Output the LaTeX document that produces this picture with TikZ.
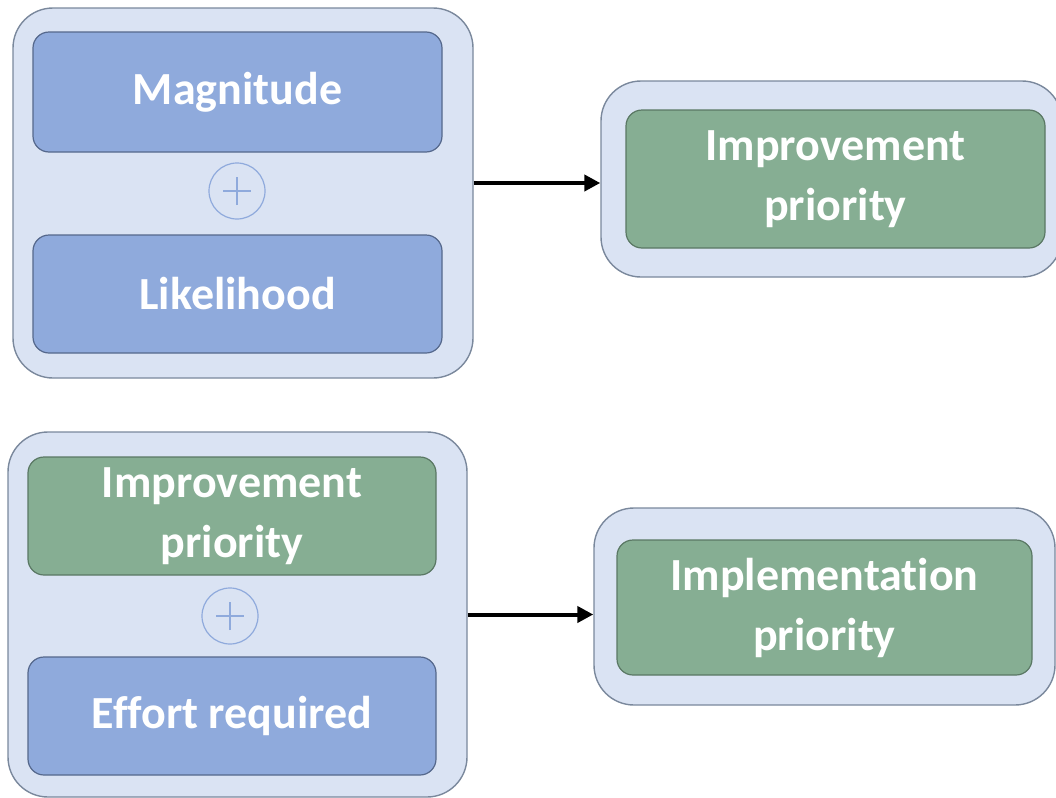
\documentclass[tikz,border=0pt]{standalone}
\usepackage{fontspec}
\setmainfont{Carlito}[Ligatures={NoCommon}]
\usetikzlibrary{arrows.meta}
\definecolor{panel}{HTML}{DAE3F3}
\definecolor{panelline}{HTML}{7A889C}
\definecolor{bluefill}{HTML}{8FAADC}
\definecolor{blueline}{HTML}{55688C}
\definecolor{greenfill}{HTML}{86AE93}
\definecolor{greenline}{HTML}{5A7864}
\definecolor{plusline}{HTML}{8FAADC}

\begin{document}
\begin{tikzpicture}[x=0.5pt, y=-0.5pt, thick,
  outer/.style = {draw=panelline, fill=panel, line width=0.7pt, rounded corners=20pt, inner sep=0pt},
  inbox/.style = {line width=0.6pt, rounded corners=8pt, text=white, align=center, inner sep=0pt,
                  font=\fontsize{23}{30}\selectfont\bfseries},
  blue/.style = {inbox, draw=blueline, fill=bluefill},
  green/.style = {inbox, draw=greenline, fill=greenfill},
  plus/.style = {circle, draw=plusline, line width=0.6pt, minimum size=28pt, inner sep=0pt,
                 path picture={\draw[plusline, line width=0.6pt]
                   ([xshift=-7pt]path picture bounding box.center) -- ([xshift=7pt]path picture bounding box.center)
                   ([yshift=-7pt]path picture bounding box.center) -- ([yshift=7pt]path picture bounding box.center);}},
  arr/.style = {-{Triangle[length=8pt, width=8pt]}, line width=2pt, black}]
\useasboundingbox (0,0) rectangle (1056,798);

% first step
\node[outer, minimum width=230pt, minimum height=185pt] (outerA) at (243,193) {};
\node[blue, minimum width=204.5pt, minimum height=60pt] (mag) at (237.5,92) {Magnitude};
\node[plus] (plusA) at (237,191) {};
\node[blue, minimum width=204.5pt, minimum height=59pt] (like) at (237.5,294) {Likelihood};

\node[outer, minimum width=230.5pt, minimum height=98pt] (outerB) at (831.5,179) {};
\node[green, minimum width=209.5pt, minimum height=69pt] (impA) at (835.5,179) {Improvement\\priority};

% second step
\node[outer, minimum width=229.5pt, minimum height=182.5pt] (outerC) at (237.5,614.5) {};
\node[green, minimum width=204pt, minimum height=59pt] (impB) at (232,516) {Improvement\\priority};
\node[plus] (plusB) at (230,616) {};
\node[blue, minimum width=204pt, minimum height=59pt] (effort) at (232,716) {Effort required};

\node[outer, minimum width=230.5pt, minimum height=98.5pt] (outerD) at (824.5,606.5) {};
\node[green, minimum width=207.5pt, minimum height=67.5pt] (impl) at (824.5,607.5) {Implementation\\priority};

\draw[arr] ([yshift=5pt]outerA.east) -- ([yshift=5pt]outerA.east -| outerB.west);
\draw[arr] (outerC.east) -- (outerC.east -| outerD.west);
\end{tikzpicture}
\end{document}
